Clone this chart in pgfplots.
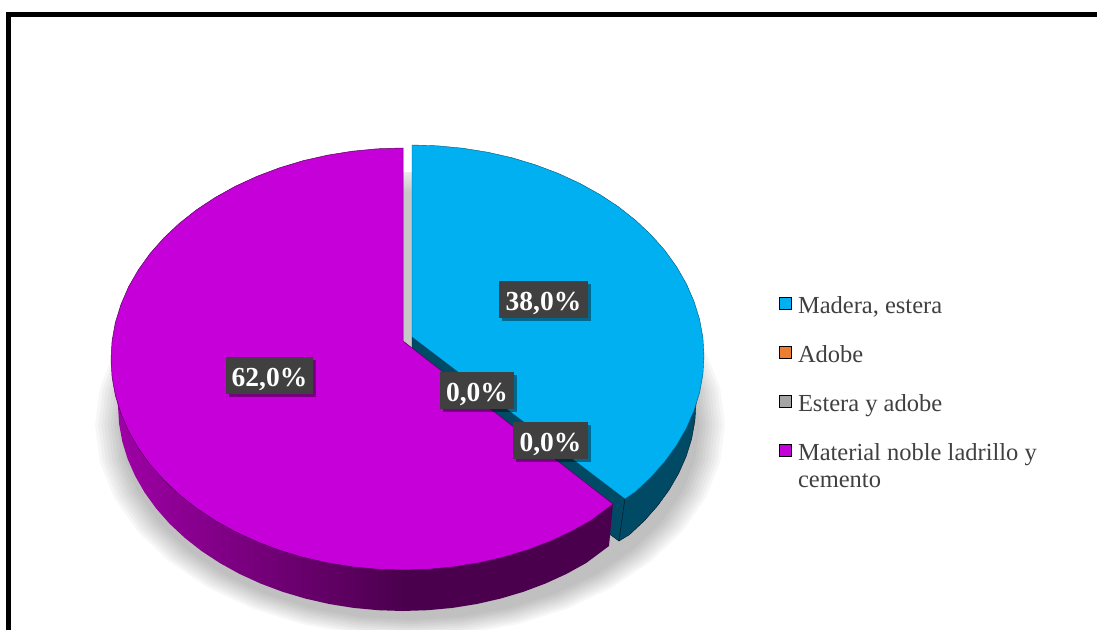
\documentclass[border=0pt]{standalone}
\usepackage{fontspec}
\setmainfont{Liberation Serif}
\usepackage{pgfplots}
\usepackage{pgfplotstable}
\pgfplotsset{compat=1.18}
\usetikzlibrary{shadows}

\definecolor{cblue}{HTML}{00B0F0}
\definecolor{cblueside}{HTML}{004A66}
\definecolor{cpurple}{HTML}{C600D8}
\definecolor{cpurpleside}{HTML}{4B004D}
\definecolor{cpurplelight}{HTML}{A000A8}
\definecolor{corange}{HTML}{ED7D31}
\definecolor{cgrey}{HTML}{A5A5A5}
\definecolor{ctext}{HTML}{404040}

% unit circle for the soft shadow rings
\pgfplotstableread{
c s
1 0
.9848 .1736
.9397 .3420
.8660 .5
.7660 .6428
.6428 .7660
.5 .8660
.3420 .9397
.1736 .9848
0 1
-.1736 .9848
-.3420 .9397
-.5 .8660
-.6428 .7660
-.7660 .6428
-.8660 .5
-.9397 .3420
-.9848 .1736
-1 0
-.9848 -.1736
-.9397 -.3420
-.8660 -.5
-.7660 -.6428
-.6428 -.7660
-.5 -.8660
-.3420 -.9397
-.1736 -.9848
0 -1
.1736 -.9848
.3420 -.9397
.5 -.8660
.6428 -.7660
.7660 -.6428
.8660 -.5
.9397 -.3420
.9848 -.1736
}\unitcircle

\tikzset{pct/.style={fill=ctext,text=white,inner sep=0pt,
  text height=29pt,text depth=8pt,
  font=\fontsize{27.5}{27.5}\selectfont\bfseries,
  drop shadow={shadow xshift=3pt,shadow yshift=-3pt,fill=black,opacity=.4}}}

\begin{document}
\begin{tikzpicture}
\begin{axis}[
  scale only axis,
  width=1097pt, height=629pt,
  xmin=0, xmax=1097, ymin=0, ymax=629,
  y dir=reverse,
  hide axis,
  no markers,
  legend style={at={(axis cs:779,296)},anchor=north west,draw=none,fill=none,
    inner sep=0pt,outer sep=0pt,row sep=30.6pt,
    font=\fontsize{24.5}{27}\selectfont,text=ctext,
    nodes={inner sep=0pt,outer sep=0pt}},
  legend cell align=left,
  legend image code/.code={\path[draw=none,fill=none] (0pt,0pt) rectangle (19pt,0pt);
    \draw[#1,line width=1pt] (.5pt,-4pt) rectangle (12.5pt,8pt);},
]
\path (rel axis cs:0,0) rectangle (rel axis cs:1,1);

% chart frame
\addplot[forget plot,black,line width=4.7pt] coordinates {(8.5,650)(8.5,14.3)(1120,14.3)};

% shadow
\pgfplotsinvokeforeach{1.00,0.99,0.98,0.97,0.96,0.95,0.94,0.93,0.92}{
  \addplot[forget plot,draw=none,fill=black,fill opacity=.03]
    table[x expr=410+315*#1*\thisrow{c},y expr=425+212*#1*\thisrow{s}] {\unitcircle} -- cycle;
}

% gap between the slices
\addplot[forget plot,draw=none,top color=black!8,bottom color=black!22]
  coordinates {(403,172)(412,172)(412,192)(403,192)} -- cycle;
\addplot[forget plot,draw=none,fill=black!22]
  coordinates {(403,192)(412,192)(412,347)(403,341)} -- cycle;

% blue slice, wall and cut face
\addplot[forget plot,fill=cblueside,draw=black!70!cblueside,line width=.4pt] coordinates {
  (412,337)(625,499)(619,541)(590,520)(412,382)} -- cycle;
\addplot[forget plot,fill=cblueside,draw=black!70!cblueside,line width=.4pt] coordinates {
  (702,375)(696,403)(694.9,420.9)(691.7,438.6)(686.3,456.1)(678.8,473.1)(669.3,489.6)
  (657.8,505.5)(644.5,520.6)(629.3,534.8)(619,541)(625,499)(600,400)} -- cycle;
% blue slice, top: 38 %
\addplot[forget plot,fill=cblue,draw=black!50!cblue,line width=.4pt] coordinates {
  (412,337)(412,145)(437.5,145.8)(462.7,148.2)(487.6,152.2)(511.9,157.7)(535.4,164.8)
  (558.0,173.3)(579.5,183.2)(599.7,194.4)(618.5,206.8)(635.7,220.4)(651.2,235.0)
  (664.9,250.5)(676.6,266.8)(686.4,283.8)(694.0,301.4)(699.6,319.4)(702.9,337.6)
  (704.0,356.0)(702.9,374.4)(699.6,392.6)(694.0,410.6)(686.4,428.2)(676.6,445.2)
  (664.9,461.5)(651.2,477.0)(635.7,491.6)(625,499)} -- cycle;

% purple slice, wall
\addplot[forget plot,draw=none,left color=cpurplelight,right color=cpurpleside] coordinates {
  (111,360)(118,406)(119.1,423.9)(122.3,441.6)(127.7,459.1)(135.2,476.1)(144.7,492.6)
  (156.2,508.5)(169.5,523.6)(184.7,537.8)(201.5,551.0)(219.8,563.0)(239.5,573.9)
  (260.5,583.5)(282.6,591.8)(305.5,598.6)(329.2,604.0)(353.5,607.9)(378.2,610.2)
  (403,611)(403,450)} -- cycle;
\addplot[forget plot,draw=none,fill=cpurpleside] coordinates {
  (402,611)(427.8,610.2)(452.5,607.9)(476.8,604.0)(500.5,598.6)(523.4,591.8)(545.5,583.5)
  (566.5,573.9)(586.2,563.0)(609,546)(613,504)(402,450)} -- cycle;
% purple slice, top: 62 %
\addplot[forget plot,fill=cpurple,draw=black!55!cpurple,line width=.5pt] coordinates {
  (403,341)(403,148)(377.5,148.8)(352.3,151.2)(327.4,155.2)(303.1,160.7)(279.6,167.8)
  (257.0,176.3)(235.5,186.2)(215.3,197.4)(196.5,209.8)(179.3,223.4)(163.8,238.0)
  (150.1,253.5)(138.4,269.8)(128.6,286.8)(121.0,304.4)(115.4,322.4)(112.1,340.6)
  (111.0,359.0)(112.1,377.4)(115.4,395.6)(121.0,413.6)(128.6,431.2)(138.4,448.2)
  (150.1,464.5)(163.8,480.0)(179.3,494.6)(196.5,508.2)(215.3,520.6)(235.5,531.8)
  (257.0,541.7)(279.6,550.2)(303.1,557.3)(327.4,562.8)(352.3,566.8)(377.5,569.2)
  (403,570)(428.5,569.2)(453.7,566.8)(478.6,562.8)(502.9,557.3)(526.4,550.2)
  (549.0,541.7)(570.5,531.8)(590.7,520.6)(613,504)} -- cycle;

% value labels
\node[pct,minimum width=89pt] at (axis cs:543.5,299.5) {38,0\%};
\node[pct,minimum width=87pt] at (axis cs:269.5,375.5) {62,0\%};
\node[pct,minimum width=74pt] at (axis cs:477,390.5) {0,0\%};
\node[pct,minimum width=75pt] at (axis cs:550.5,440.5) {0,0\%};

\addlegendimage{fill=cblue,draw=black}
\addlegendentry{Madera, estera}
\addlegendimage{fill=corange,draw=black}
\addlegendentry{Adobe}
\addlegendimage{fill=cgrey,draw=black}
\addlegendentry{Estera y adobe}
\addlegendimage{fill=cpurple,draw=black}
\addlegendentry{\parbox[t]{260pt}{\raggedright Material noble ladrillo y\\cemento}}
\end{axis}
\end{tikzpicture}
\end{document}
